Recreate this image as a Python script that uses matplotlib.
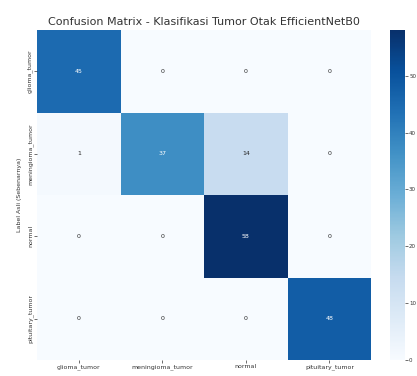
import matplotlib
matplotlib.use("Agg")
import matplotlib.pyplot as plt
import seaborn as sns
import numpy as np

classes = ["glioma_tumor", "meningioma_tumor", "normal", "pituitary_tumor"]
row_glioma = [45, 0, 0, 0]
row_meningioma = [1, 37, 14, 0]
row_normal = [0, 0, 58, 0]
row_pituitary = [0, 0, 0, 48]
cm = np.array([row_glioma, row_meningioma, row_normal, row_pituitary])

fig = plt.figure(figsize=(4.17, 3.76), dpi=100)
ax = fig.add_axes([0.089, 0.042, 0.801, 0.878])
cax = fig.add_axes([0.935, 0.042, 0.036, 0.878])

sns.heatmap(cm, annot=True, fmt="d", cmap="Blues", ax=ax, cbar_ax=cax,
            xticklabels=classes, yticklabels=classes,
            annot_kws={"fontsize": 4.5})
ax.set_title("Confusion Matrix - Klasifikasi Tumor Otak EfficientNetB0",
             fontsize=8, color="#333333", pad=4)
ax.set_ylabel("Label Asli (Sebenarnya)", fontsize=4.5, color="#333333", labelpad=4)
ax.tick_params(axis="both", labelsize=4.5, length=2, width=0.5, pad=1, colors="#333333")
plt.setp(ax.get_xticklabels(), rotation=0, ha="center")
plt.setp(ax.get_yticklabels(), rotation=90, va="center")
cax.tick_params(labelsize=4, length=2, width=0.5, pad=1, colors="#333333")
for s in cax.spines.values():
    s.set_visible(False)

fig.savefig("out.png", dpi=100)
